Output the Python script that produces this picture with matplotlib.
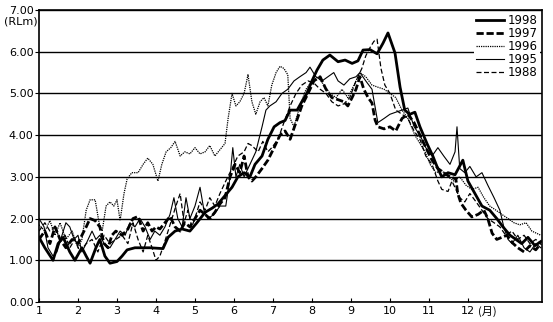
import matplotlib
matplotlib.use("Agg")
import matplotlib.pyplot as plt
from matplotlib.lines import Line2D

# ---- data (x in month units, values in RLm) ----
m1998 = [1.00,1.15,1.36,1.49,1.62,1.79,1.92,2.10,2.21,2.31,2.46,2.56,2.69,2.82,3.00,3.13,3.26,3.46,3.85,4.18,
         4.31,4.49,4.67,4.87,5.05,5.26,5.44,5.59,5.77,5.95,6.10,6.26,6.41,6.54,6.72,6.87,7.03,7.18,7.31,7.44,
         7.62,7.74,7.87,8.00,8.13,8.28,8.46,8.67,8.85,9.03,9.18,9.31,9.49,9.67,9.82,9.95,10.13,10.26,10.38,10.51,
         10.64,10.77,10.95,11.10,11.21,11.33,11.49,11.67,11.87,12.00,12.18,12.36,12.56,12.74,12.90,13.08,13.23,13.38,13.54,13.72,
         13.87]
v1998 = [1.55,1.3,1.0,1.4,1.55,1.2,1.0,1.3,1.1,0.93,1.3,1.5,1.1,0.93,0.97,1.1,1.25,1.3,1.3,1.28,
         1.55,1.7,1.75,1.7,1.9,2.15,2.25,2.35,2.55,2.75,3.0,3.1,3.0,3.3,3.5,3.9,4.2,4.3,4.35,4.6,
         4.6,4.8,5.0,5.3,5.56,5.8,5.92,5.76,5.8,5.72,5.78,6.04,6.05,5.95,6.2,6.45,5.97,5.15,4.6,4.5,
         4.55,4.2,3.8,3.5,3.24,3.0,3.1,3.05,3.4,2.9,2.6,2.3,2.2,2.0,1.8,1.6,1.5,1.4,1.55,1.35,
         1.45]

m1997 = [1.00,1.15,1.28,1.41,1.54,1.69,1.85,2.00,2.10,2.21,2.31,2.44,2.56,2.67,2.77,2.87,2.97,3.13,3.28,3.41,
         3.54,3.67,3.79,3.90,4.00,4.10,4.23,4.36,4.49,4.62,4.74,4.87,5.00,5.13,5.26,5.38,5.51,5.64,5.77,5.90,
         6.03,6.15,6.26,6.36,6.46,6.56,6.72,6.87,7.03,7.18,7.31,7.44,7.59,7.74,7.90,8.05,8.21,8.36,8.51,8.67,
         8.82,8.92,9.03,9.13,9.23,9.33,9.44,9.54,9.62,9.69,9.85,10.00,10.15,10.31,10.46,10.62,10.77,10.92,11.08,11.23,
         11.38,11.54,11.69,11.74,11.82,11.95,12.10,12.26,12.41,12.51,12.62,12.74,12.87,13.00,13.15,13.28,13.44,13.59,13.74,13.87]
v1997 = [1.5,1.7,1.4,1.8,1.5,1.3,1.5,1.4,1.6,1.8,2.0,1.95,1.8,1.4,1.3,1.6,1.7,1.6,1.75,2.0,
         2.05,1.7,1.9,1.7,1.8,1.75,1.9,2.05,1.8,1.7,1.9,1.8,2.0,2.2,2.1,2.0,2.15,2.35,2.5,3.0,
         3.3,3.1,3.5,3.0,2.9,3.0,3.2,3.4,3.7,4.0,4.1,3.9,4.3,4.7,5.0,5.3,5.4,5.1,4.9,4.85,
         4.8,4.7,4.9,5.1,5.4,5.1,4.9,4.77,4.36,4.2,4.15,4.2,4.1,4.4,4.5,4.3,4.0,3.7,3.4,3.2,
         3.1,3.0,2.95,2.6,2.37,2.2,2.04,2.1,2.2,2.0,1.65,1.5,1.55,1.6,1.41,1.3,1.2,1.35,1.25,1.4]

m1996 = [1.00,1.15,1.28,1.41,1.54,1.69,1.85,2.00,2.10,2.21,2.31,2.44,2.54,2.62,2.72,2.82,2.92,3.00,3.08,
         3.18,3.26,3.38,3.54,3.67,3.79,3.92,4.05,4.15,4.26,4.38,4.49,4.62,4.74,4.87,5.00,5.13,5.26,5.38,5.51,
         5.64,5.77,5.85,5.95,6.05,6.15,6.26,6.36,6.46,6.56,6.67,6.77,6.87,6.97,7.08,7.18,7.28,7.38,7.44,7.54,
         7.69,7.85,8.00,8.15,8.31,8.46,8.62,8.77,8.92,9.08,9.23,9.38,9.54,9.69,9.85,10.00,10.15,10.31,10.46,10.64,
         10.77,10.90,11.03,11.18,11.33,11.49,11.64,11.79,11.95,12.10,12.26,12.41,12.56,12.72,12.87,13.03,13.18,13.33,13.49,13.64,
         13.87]
v1996 = [1.85,1.7,1.95,1.6,1.9,1.5,1.7,1.3,1.5,
         2.2,2.45,2.45,1.9,1.7,2.3,2.4,2.3,2.45,1.95,
         2.6,2.95,3.1,3.1,3.3,3.45,3.3,2.9,3.3,3.6,
         3.7,3.85,3.5,3.6,3.55,3.7,3.55,3.6,3.75,3.5,
         3.65,3.8,4.4,5.0,4.7,4.8,5.0,5.45,4.8,4.5,
         4.8,4.9,4.7,5.2,5.5,5.65,5.6,5.45,4.4,4.2,
         4.7,5.1,5.3,5.4,5.2,5.0,4.9,5.1,4.9,5.2,
         5.5,5.4,5.2,5.15,5.1,5.0,4.9,4.6,4.4,4.0,
         3.8,3.6,3.3,3.1,3.15,3.0,2.9,3.0,2.8,2.7,
         2.75,2.5,2.3,2.2,2.1,2.0,1.9,1.85,1.9,1.7,
         1.6]

m1995 = [1.00,1.13,1.23,1.36,1.46,1.59,1.69,1.79,1.90,2.00,2.10,2.21,2.36,2.46,2.56,2.67,2.82,2.95,3.08,3.21,
         3.33,3.46,3.59,3.72,3.85,3.97,4.10,4.23,4.36,4.46,4.56,4.67,4.77,4.87,5.00,5.13,5.23,5.33,5.49,5.64,
         5.79,5.90,5.97,6.05,6.15,6.26,6.41,6.56,6.72,6.82,6.92,7.08,7.23,7.38,7.54,7.69,7.85,7.95,8.10,8.26,
         8.41,8.56,8.67,8.82,8.97,9.13,9.23,9.38,9.54,9.69,9.85,10.00,10.15,10.31,10.46,10.62,10.77,10.92,11.08,11.23,
         11.38,11.54,11.67,11.72,11.79,11.92,12.05,12.21,12.36,12.51,12.67,12.82,12.92,13.03,13.13,13.28,13.44,13.59,13.74,13.87]
v1995 = [2.0,1.8,1.3,1.1,1.2,1.6,1.9,1.8,1.5,1.6,1.2,1.4,1.7,1.5,1.6,1.4,1.3,1.5,1.7,1.6,
         1.9,1.8,2.0,1.8,1.5,1.7,1.6,1.8,2.1,2.5,2.0,1.8,2.5,2.0,2.3,2.75,2.2,2.0,2.1,2.3,
         2.3,3.0,3.7,3.0,3.3,3.0,3.3,3.6,4.2,4.6,4.7,4.8,5.0,5.1,5.3,5.4,5.5,5.63,5.4,5.3,
         5.4,5.5,5.3,5.2,5.35,5.4,5.5,5.3,5.1,4.3,4.4,4.5,4.55,4.6,4.65,4.2,4.0,3.7,3.5,3.7,
         3.5,3.3,3.6,4.2,3.2,3.1,3.25,3.0,3.1,2.8,2.5,2.2,1.8,1.5,1.4,1.6,1.3,1.2,1.4,1.3]

m1988 = [1.00,1.15,1.28,1.41,1.54,1.67,1.79,1.92,2.05,2.21,2.36,2.51,2.67,2.82,2.97,3.13,3.28,3.41,3.54,3.67,
         3.79,3.90,4.00,4.10,4.21,4.31,4.41,4.51,4.62,4.72,4.82,4.92,5.03,5.13,5.26,5.38,5.51,5.64,5.79,5.95,
         6.10,6.26,6.36,6.46,6.62,6.74,6.87,6.97,7.13,7.28,7.44,7.59,7.74,7.90,8.05,8.21,8.36,8.51,8.67,8.82,
         8.97,9.13,9.28,9.38,9.49,9.59,9.67,9.77,9.87,10.00,10.15,10.31,10.46,10.62,10.77,10.92,11.08,11.23,11.33,11.49,
         11.59,11.69,11.79,11.92,12.05,12.21,12.36,12.51,12.67,12.82,12.97,13.13,13.28,13.44,13.59,13.74,13.87]
v1988 = [1.7,1.9,1.7,1.8,1.5,1.6,1.3,1.5,1.2,1.4,1.5,1.2,1.6,1.4,1.5,1.6,1.4,1.9,1.5,1.2,
         1.6,1.3,1.0,1.1,1.4,1.7,2.0,2.3,2.6,1.9,2.2,1.8,2.1,2.4,2.2,2.5,2.3,2.6,2.9,3.2,
         3.5,3.6,3.8,3.75,3.6,3.85,3.6,3.7,3.9,4.3,4.7,5.0,5.2,5.3,5.25,5.1,5.0,4.8,4.7,4.75,
         4.9,5.3,5.6,5.9,6.1,6.25,6.3,5.6,5.2,5.0,4.6,4.5,4.4,4.1,3.9,3.5,3.3,2.9,2.7,2.65,
         2.9,2.7,2.5,2.4,2.6,2.4,2.2,2.0,1.9,1.8,1.6,1.7,1.5,1.6,1.4,1.5,1.4]

months = list(range(1, 13))
month_labels = [str(m) for m in months]
yticks = [0, 1, 2, 3, 4, 5, 6, 7]
ytick_labels = ["0.00", "1.00", "2.00", "3.00", "4.00", "5.00", "6.00", "7.00"]

plt.rcParams['font.family'] = ['DejaVu Sans', 'Noto Sans CJK JP']

fig = plt.figure(figsize=(5.53, 3.22), dpi=100)
ax = fig.add_axes([39/553, 20/322, 503/553, 292/322])

styles = {
    "1998": dict(color="black", lw=2.0, ls="-"),
    "1997": dict(color="black", lw=2.0, ls=(0, (2.6, 1.0))),
    "1996": dict(color="black", lw=0.9, ls=(0, (1, 0.8))),
    "1995": dict(color="black", lw=0.8, ls="-"),
    "1988": dict(color="black", lw=0.9, ls=(0, (4, 2))),
}
series = [("1998", m1998, v1998), ("1997", m1997, v1997), ("1996", m1996, v1996),
          ("1995", m1995, v1995), ("1988", m1988, v1988)]
for name, mx, vy in series:
    ax.plot(mx, vy, **styles[name], label=name, zorder=3)

ax.set_xlim(1, 13.9)
ax.set_ylim(0, 7)
ax.set_yticks(yticks)
ax.set_yticklabels(ytick_labels, fontsize=8)
ax.set_xticks(months)
ax.set_xticklabels(month_labels, fontsize=8)
ax.tick_params(axis='x', direction='in', length=3, pad=3, width=0.8)
ax.tick_params(axis='y', direction='out', length=3, pad=1, width=0.8)
ax.yaxis.grid(True, color='black', lw=1.0)
ax.set_axisbelow(True)
for sp in ax.spines.values():
    sp.set_linewidth(1.2)

ax.annotate("(月)", xy=(12.27, 0), xycoords=('data', 'axes fraction'),
            xytext=(0, -3), textcoords='offset points', va='top', ha='left',
            fontsize=8, family=['Noto Sans CJK JP', 'DejaVu Sans'])
fig.text(4/553, 1 - 22/322, "(RLm)", fontsize=8, ha='left', va='center')

handles = [Line2D([], [], **styles[n]) for n, _, _ in series]
leg = ax.legend(handles, [n for n, _, _ in series], loc='upper right',
                bbox_to_anchor=(1.0, 1.0), fontsize=8.5, frameon=True,
                facecolor='white', edgecolor='none', framealpha=1, fancybox=False,
                handlelength=2.4, handletextpad=0.3, labelspacing=0.0,
                borderpad=0.2, borderaxespad=0.15)
leg.set_zorder(5)

fig.savefig("out.png", dpi=100)
